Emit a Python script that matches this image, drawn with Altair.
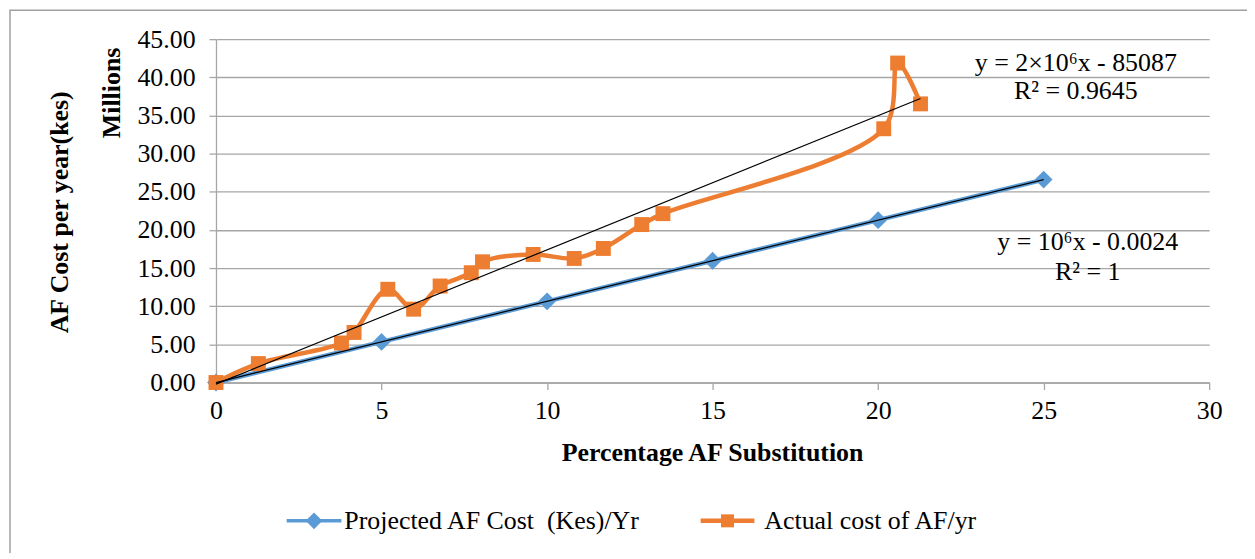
import altair as alt
import pandas as pd

# ---- data (values in millions) ----
proj_x = [0, 5, 10, 15, 20, 25]
proj_y = [0, 5.32, 10.64, 15.96, 21.28, 26.6]
act_x = [0, 1.28, 3.79, 4.17, 5.19, 5.97, 6.77, 7.71, 8.05, 9.58, 10.82, 11.70, 12.86, 13.50, 20.17, 20.59, 21.28]
act_y = [0, 2.48, 5.18, 6.56, 12.22, 9.61, 12.65, 14.39, 15.82, 16.78, 16.26, 17.57, 20.70, 22.13, 33.26, 41.87, 36.52]
x_ticks = [0, 5, 10, 15, 20, 25, 30]
y_ticks = [0, 5, 10, 15, 20, 25, 30, 35, 40, 45]
series_names = ["Projected AF Cost\u00a0 (Kes)/Yr", "Actual cost of AF/yr"]
eq_proj = ["y = 10⁶x - 0.0024", "R² = 1"]
eq_act = ["y = 2×10⁶x - 85087", "R² = 0.9645"]
x_title = "Percentage AF Substitution"
y_title = "AF Cost per year(kes)"
y_unit = "Millions"

BLUE = "#5B9BD5"
ORANGE = "#ED7D31"
GRAY = "#a6a6a6"
FONT = "Liberation Serif"
FS = 26

df_proj = pd.DataFrame({"x": proj_x, "y": proj_y})
df_act = pd.DataFrame({"x": act_x, "y": act_y, "i": list(range(len(act_x)))})
one = pd.DataFrame({"a": [0]})

X = alt.X("x:Q", scale=alt.Scale(domain=[0, 30], nice=False),
          axis=alt.Axis(values=x_ticks, grid=False, title=None, labelPadding=8, labelFlush=False))
Y = alt.Y("y:Q", scale=alt.Scale(domain=[0, 45], nice=False),
          axis=alt.Axis(values=y_ticks, format=".2f", grid=True, title=None, labelPadding=14, labelFlush=False))

proj_line = alt.Chart(df_proj).mark_line(color=BLUE, strokeWidth=4.5).encode(x=X, y=Y)
proj_pts = alt.Chart(df_proj).mark_point(shape="diamond", filled=True, color=BLUE, size=320, opacity=1).encode(x=X, y=Y)
act_line = alt.Chart(df_act).mark_line(color=ORANGE, strokeWidth=4.5, interpolate="catmull-rom").encode(
    x=X, y=Y, order="i:Q")
act_pts = alt.Chart(df_act).mark_point(shape="square", filled=True, color=ORANGE, size=225, opacity=1).encode(x=X, y=Y)

trend_proj = alt.Chart(df_proj).transform_regression("x", "y").mark_line(
    color="black", strokeWidth=1.3).encode(x=X, y=Y)
trend_act = alt.Chart(df_act).transform_regression("x", "y").mark_line(
    color="black", strokeWidth=1.2).encode(x=X, y=Y)


def txt(s, x, y, angle=0, bold=False, align="center"):
    return alt.Chart(one).mark_text(
        text=s, font=FONT, fontSize=FS, fontWeight="bold" if bold else "normal",
        color="black", angle=angle, align=align, baseline="middle"
    ).encode(x=alt.value(x), y=alt.value(y))


annots = [
    txt(eq_act[0], 864, 24), txt(eq_act[1], 864, 52),
    txt(eq_proj[0], 876, 204), txt(eq_proj[1], 876, 234),
    txt(x_title, 499, 416, bold=True),
    txt(y_title, -157, 174, angle=270, bold=True),
    txt(y_unit, -104, 54, angle=270, bold=True),
]

# legend
LY = 484
leg = [
    alt.Chart(one).mark_rule(color=BLUE, strokeWidth=3.5).encode(
        x=alt.value(71), x2=alt.value(126), y=alt.value(LY)),
    alt.Chart(one).mark_point(shape="diamond", filled=True, color=BLUE, size=280, opacity=1).encode(
        x=alt.value(98.5), y=alt.value(LY)),
    txt(series_names[0], 129, LY, align="left"),
    alt.Chart(one).mark_rule(color=ORANGE, strokeWidth=4.5).encode(
        x=alt.value(487), x2=alt.value(541), y=alt.value(LY)),
    alt.Chart(one).mark_point(shape="square", filled=True, color=ORANGE, size=170, opacity=1).encode(
        x=alt.value(514), y=alt.value(LY)),
    txt(series_names[1], 551, LY, align="left"),
]

border = alt.Chart(one).mark_rect(fill=None, stroke="#a0a0a0", strokeWidth=1.5).encode(
    x=alt.value(-207), x2=alt.value(1037), y=alt.value(-29), y2=alt.value(700))

chart = alt.layer(
    border, proj_line, proj_pts, act_line, act_pts, trend_proj, trend_act, *annots, *leg
).properties(
    width=998, height=345,
    autosize=alt.AutoSizeParams(type="none"),
    padding={"left": 209, "top": 30, "right": 38, "bottom": 170},
).configure_view(stroke=None).configure_axis(
    labelFont=FONT, labelFontSize=FS, labelColor="black",
    domainColor=GRAY, domainWidth=1.3, tickColor=GRAY, tickWidth=1.3, tickSize=7,
    gridColor=GRAY, gridWidth=1.3,
)

chart.save("out.html", embed_options={"renderer": "svg", "actions": False})
